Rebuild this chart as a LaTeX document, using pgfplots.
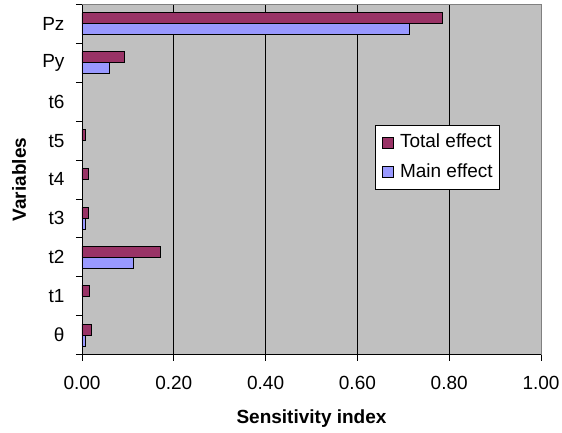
\documentclass[border=0pt]{standalone}
\usepackage{fontspec}
\setmainfont{Liberation Sans}
\usepackage{pgfplots}
\pgfplotsset{compat=1.18}

\definecolor{totalc}{HTML}{993366}
\definecolor{mainc}{HTML}{9999FF}
\definecolor{plotbg}{HTML}{C0C0C0}
\definecolor{frameg}{HTML}{808080}

\begin{document}
\fontsize{19}{23}\selectfont
\begin{tikzpicture}
\begin{axis}[
  at={(0pt,0pt)}, anchor=south west,
  scale only axis,
  width=459pt, height=350pt,
  xbar,
  bar width=11pt,
  xmin=0, xmax=1,
  ymin=-0.5, ymax=8.5,
  axis line style={frameg, line width=0.8pt},
  axis background/.style={fill=plotbg},
  xtick={0,0.2,0.4,0.6,0.8,1},
  xtick pos=bottom, ytick pos=left,
  xmajorgrids=true,
  major grid style={black, line width=0.8pt},
  major tick length=6pt,
  tick align=outside,
  xtick style={draw=black, line width=0.8pt},
  ytick style={draw=black, line width=0.8pt},
  xticklabel style={yshift=-9pt, /pgf/number format/.cd, fixed, fixed zerofill, precision=2, assume math mode=true},
  % category boundaries carry the tick marks, the names sit between them
  ytick={-0.5,0.5,1.5,2.5,3.5,4.5,5.5,6.5,7.5,8.5},
  yticklabels={},
  extra y ticks={0,1,2,3,4,5,6,7,8},
  extra y tick labels={θ, t1, t2, t3, t4, t5, t6, Py, Pz},
  extra y tick style={ytick style={draw=none}, yticklabel style={xshift=-5pt}},
  every axis y label/.style={at={(axis description cs:-0.137,0.5)}, rotate=90, anchor=center, font=\bfseries},
  every axis x label/.style={at={(axis description cs:0.5,0)}, anchor=center, yshift=-64pt, font=\bfseries},
  xlabel={Sensitivity index},
  ylabel={Variables},
  legend style={at={(0.638,0.656)}, anchor=north west, draw=black, fill=white,
    line width=0.6pt, inner xsep=7pt, inner ysep=9pt, row sep=13pt,
    nodes={inner sep=0pt},
    /tikz/every odd column/.append style={column sep=6pt}},
  legend cell align=left,
  legend image code/.code={\draw[#1, line width=0.9pt] (0pt,-5.5pt) rectangle (11pt,5.5pt);},
  after end axis/.code={
    % black left and bottom axis lines with outward tick marks
    \draw[black, line width=0.8pt] (rel axis cs:0,1) -- (rel axis cs:0,0) -- (rel axis cs:1,0);
    \foreach \v in {0,0.2,0.4,0.6,0.8,1}
      \draw[black, line width=0.8pt] (axis cs:\v,-0.5) -- ++(0pt,-6pt);
    \foreach \c in {-0.5,0.5,1.5,2.5,3.5,4.5,5.5,6.5,7.5,8.5}
      \draw[black, line width=0.8pt] (axis cs:0,\c) -- ++(-6pt,0pt);
  },
]
\addplot[fill=totalc, draw=black, line width=0.9pt, bar shift=5.5pt] coordinates {
  (0.785,8) (0.092,7) (0.008,5) (0.0137,4) (0.0137,3) (0.171,2) (0.017,1) (0.021,0)
};
\addlegendentry{Total effect}
\addplot[fill=mainc, draw=black, line width=0.9pt, bar shift=-5.5pt] coordinates {
  (0.713,8) (0.059,7) (0.008,3) (0.112,2) (0.008,0)
};
\addlegendentry{Main effect}
\end{axis}
\pgfresetboundingbox
\path[use as bounding box] (-82pt,-77.5pt) rectangle (480pt,354.5pt);
\end{tikzpicture}
\end{document}
